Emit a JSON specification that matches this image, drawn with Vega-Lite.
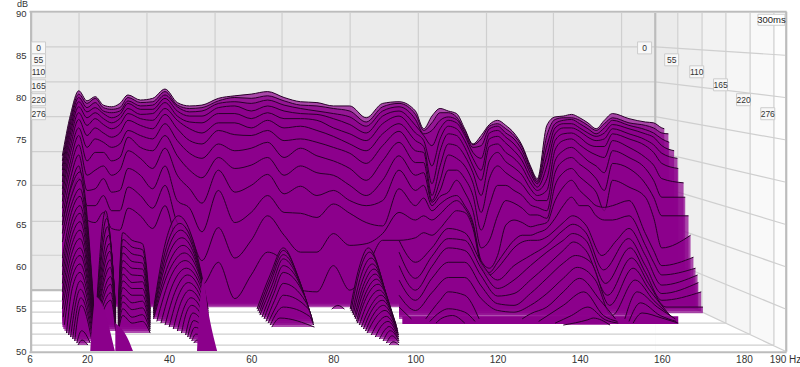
{"$schema":"https://vega.github.io/schema/vega-lite/v6.json","width":800,"height":367,"padding":0,"autosize":{"type":"none"},"background":"white","config":{"view":{"stroke":null},"area":{"color":"#8b008b","line":{"color":"#2a002a","strokeWidth":1}}},
"datasets":{
"strips":[{"hz":158.4,"hz2":164,"db":90,"db2":50,"d":0},{"hz":164,"hz2":169.8,"db":90,"db2":50,"d":1},{"hz":169.8,"hz2":175.6,"db":90,"db2":50,"d":2},{"hz":175.6,"hz2":181.5,"db":90,"db2":50,"d":3},{"hz":181.5,"hz2":187.3,"db":90,"db2":50,"d":4},{"hz":187.3,"hz2":190,"db":90,"db2":50,"d":5}],
"back":[{"hz":6.6,"hz2":158.4,"db":90,"db2":57.2}],
"floor":[{"hz":158.4,"db":57.2,"b":50},{"hz":190,"db":50,"b":50}],
"grid":[{"hz":18.06,"hz2":18.06,"db":90,"db2":57.2},{"hz":34.6,"hz2":34.6,"db":90,"db2":57.2},{"hz":51.2,"hz2":51.2,"db":90,"db2":57.2},{"hz":67.5,"hz2":67.5,"db":90,"db2":57.2},{"hz":84.1,"hz2":84.1,"db":90,"db2":57.2},{"hz":100.7,"hz2":100.7,"db":90,"db2":57.2},{"hz":117.3,"hz2":117.3,"db":90,"db2":57.2},{"hz":133.6,"hz2":133.6,"db":90,"db2":57.2},{"hz":150.2,"hz2":150.2,"db":90,"db2":57.2},{"hz":6.6,"hz2":158.4,"db":86,"db2":86},{"hz":6.6,"hz2":158.4,"db":81.86,"db2":81.86},{"hz":6.6,"hz2":158.4,"db":77.73,"db2":77.73},{"hz":6.6,"hz2":158.4,"db":73.6,"db2":73.6},{"hz":6.6,"hz2":158.4,"db":69.6,"db2":69.6},{"hz":6.6,"hz2":158.4,"db":65.34,"db2":65.34},{"hz":6.6,"hz2":158.4,"db":61.33,"db2":61.33},{"hz":158.4,"hz2":190,"db":86,"db2":85},{"hz":158.4,"hz2":190,"db":81.86,"db2":80},{"hz":158.4,"hz2":190,"db":77.73,"db2":75},{"hz":158.4,"hz2":190,"db":73.6,"db2":70},{"hz":158.4,"hz2":190,"db":69.6,"db2":65},{"hz":158.4,"hz2":190,"db":65.34,"db2":60},{"hz":158.4,"hz2":190,"db":61.33,"db2":55},{"hz":158.4,"hz2":190,"db":57.2,"db2":50},{"hz":163.9,"hz2":163.9,"db":90,"db2":55.9},{"hz":169.8,"hz2":169.8,"db":90,"db2":54.6},{"hz":175.6,"hz2":175.6,"db":90,"db2":53.3},{"hz":181.5,"hz2":181.5,"db":90,"db2":52},{"hz":187.3,"hz2":187.3,"db":90,"db2":50.7},{"hz":6.4,"hz2":163.9,"db":55.9,"db2":55.9},{"hz":6.4,"hz2":169.8,"db":54.6,"db2":54.6},{"hz":6.3,"hz2":175.6,"db":53.3,"db2":53.3},{"hz":6.3,"hz2":181.5,"db":52,"db2":52},{"hz":6.2,"hz2":187.3,"db":50.7,"db2":50.7}],
"frame":[{"hz":6,"hz2":190.4,"db":90.15,"db2":90.15},{"hz":190.3,"hz2":190.3,"db":90.15,"db2":49.9},{"hz":6.4,"hz2":6.4,"db":90.15,"db2":49.9},{"hz":6,"hz2":190.4,"db":49.85,"db2":49.85},{"hz":158.4,"hz2":158.4,"db":90,"db2":57.2},{"hz":6.6,"hz2":14,"db":57.2,"db2":57.2}],
"boxes":[{"label":"0","hz":8.2,"db":85.87},{"label":"55","hz":8.2,"db":84.46},{"label":"110","hz":8.2,"db":83.04},{"label":"165","hz":8.2,"db":81.39},{"label":"220","hz":8.2,"db":79.74},{"label":"276","hz":8.2,"db":78.08},{"label":"0","hz":155.8,"db":85.87},{"label":"55","hz":162.4,"db":84.46},{"label":"110","hz":168.5,"db":83.04},{"label":"165","hz":174.3,"db":81.5},{"label":"220","hz":179.9,"db":79.74},{"label":"276","hz":185.8,"db":78.08}],
"tag":[{"label":"300ms","hz":186.7,"db":89.2}],
"bases":[{"k":0,"base":57.2},{"k":1,"base":57.03},{"k":2,"base":56.87},{"k":3,"base":56.69},{"k":4,"base":56.53},{"k":5,"base":56.37},{"k":6,"base":56.2},{"k":7,"base":56},{"k":8,"base":55.85},{"k":9,"base":55.69},{"k":10,"base":55.55},{"k":11,"base":55.36},{"k":12,"base":55.19},{"k":13,"base":54.96},{"k":14,"base":54.72},{"k":15,"base":54.48},{"k":16,"base":54.25},{"k":16.5,"base":53.2},{"k":17,"base":54.01},{"k":18,"base":53.78},{"k":19,"base":53.54},{"k":20,"base":53.3},{"k":21,"base":53.07},{"k":22,"base":52.83},{"k":23,"base":52.6},{"k":24,"base":52.36},{"k":25,"base":52.12},{"k":26,"base":51.89},{"k":27,"base":51.65},{"k":28,"base":51.42},{"k":29,"base":51.18},{"k":30,"base":50.94},{"k":31,"base":50.71},{"k":33,"base":50}],
"slices":[
{"k":0,"hz":14,"db":73.1},{"k":0,"hz":16,"db":78},{"k":0,"hz":18,"db":80.8},{"k":0,"hz":20,"db":79.6},{"k":0,"hz":22,"db":80.1},{"k":0,"hz":24,"db":79.1},{"k":0,"hz":26,"db":78.9},{"k":0,"hz":28,"db":79.3},{"k":0,"hz":30,"db":80.3},{"k":0,"hz":33,"db":79.7},{"k":0,"hz":36,"db":79.9},{"k":0,"hz":39,"db":81},{"k":0,"hz":42,"db":79.4},{"k":0,"hz":45,"db":79},{"k":0,"hz":48,"db":79.1},{"k":0,"hz":52,"db":79.9},{"k":0,"hz":56,"db":80.2},{"k":0,"hz":60,"db":80.4},{"k":0,"hz":64,"db":80.7},{"k":0,"hz":68,"db":80},{"k":0,"hz":72,"db":79.5},{"k":0,"hz":76,"db":79.4},{"k":0,"hz":80,"db":79},{"k":0,"hz":84,"db":79},{"k":0,"hz":88,"db":77.6},{"k":0,"hz":92,"db":79.3},{"k":0,"hz":96,"db":79.5},{"k":0,"hz":100,"db":78.4},{"k":0,"hz":102,"db":76.3},{"k":0,"hz":104,"db":77.8},{"k":0,"hz":106,"db":78.7},{"k":0,"hz":108,"db":78.4},{"k":0,"hz":110,"db":78.1},{"k":0,"hz":112,"db":76.3},{"k":0,"hz":114,"db":74.5},{"k":0,"hz":116,"db":75.5},{"k":0,"hz":118,"db":76.8},{"k":0,"hz":120,"db":77.3},{"k":0,"hz":122,"db":76.7},{"k":0,"hz":124,"db":75.8},{"k":0,"hz":126,"db":74.3},{"k":0,"hz":128,"db":71.9},{"k":0,"hz":129.7,"db":70.4},{"k":0,"hz":132,"db":76.7},{"k":0,"hz":134,"db":77.7},{"k":0,"hz":136,"db":77.8},{"k":0,"hz":138,"db":78},{"k":0,"hz":140,"db":77.6},{"k":0,"hz":142,"db":77},{"k":0,"hz":144,"db":76.3},{"k":0,"hz":146,"db":77.3},{"k":0,"hz":148,"db":78.1},{"k":0,"hz":152,"db":77.5},{"k":0,"hz":156,"db":77.1},{"k":0,"hz":158,"db":77},{"k":0,"hz":160,"db":76.4},{"k":0,"hz":160.6,"db":76.3},
{"k":1,"hz":14,"db":72.5},{"k":1,"hz":16,"db":77.5},{"k":1,"hz":18,"db":80.4},{"k":1,"hz":20,"db":79.3},{"k":1,"hz":22,"db":79.9},{"k":1,"hz":24,"db":78.8},{"k":1,"hz":26,"db":78.6},{"k":1,"hz":28,"db":78.8},{"k":1,"hz":30,"db":80},{"k":1,"hz":33,"db":79.4},{"k":1,"hz":36,"db":79.5},{"k":1,"hz":39,"db":80.7},{"k":1,"hz":42,"db":79.1},{"k":1,"hz":45,"db":78.7},{"k":1,"hz":48,"db":78.8},{"k":1,"hz":52,"db":79.6},{"k":1,"hz":56,"db":80},{"k":1,"hz":60,"db":79.9},{"k":1,"hz":64,"db":80.2},{"k":1,"hz":68,"db":79.6},{"k":1,"hz":72,"db":79.1},{"k":1,"hz":76,"db":79},{"k":1,"hz":80,"db":78.7},{"k":1,"hz":84,"db":78.4},{"k":1,"hz":88,"db":77.1},{"k":1,"hz":92,"db":78.9},{"k":1,"hz":96,"db":79.3},{"k":1,"hz":100,"db":78},{"k":1,"hz":102,"db":76.1},{"k":1,"hz":104,"db":77},{"k":1,"hz":106,"db":78.2},{"k":1,"hz":108,"db":78.2},{"k":1,"hz":110,"db":77.7},{"k":1,"hz":112,"db":76.1},{"k":1,"hz":114,"db":74.4},{"k":1,"hz":116,"db":75.1},{"k":1,"hz":118,"db":76.6},{"k":1,"hz":120,"db":76.9},{"k":1,"hz":122,"db":76.3},{"k":1,"hz":124,"db":75.5},{"k":1,"hz":126,"db":74.1},{"k":1,"hz":128,"db":71.7},{"k":1,"hz":129.7,"db":70.2},{"k":1,"hz":132,"db":75.5},{"k":1,"hz":134,"db":77.4},{"k":1,"hz":136,"db":77.6},{"k":1,"hz":138,"db":77.6},{"k":1,"hz":140,"db":77.3},{"k":1,"hz":142,"db":76.7},{"k":1,"hz":144,"db":76.1},{"k":1,"hz":146,"db":76.9},{"k":1,"hz":148,"db":77.6},{"k":1,"hz":152,"db":77},{"k":1,"hz":156,"db":76.7},{"k":1,"hz":158,"db":76.4},{"k":1,"hz":160,"db":75.8},{"k":1,"hz":161.6,"db":75.7},
{"k":2,"hz":14,"db":71.9},{"k":2,"hz":16,"db":77},{"k":2,"hz":18,"db":80},{"k":2,"hz":20,"db":78.8},{"k":2,"hz":22,"db":79.4},{"k":2,"hz":24,"db":78.4},{"k":2,"hz":26,"db":78.2},{"k":2,"hz":28,"db":78.4},{"k":2,"hz":30,"db":79.6},{"k":2,"hz":33,"db":79},{"k":2,"hz":36,"db":79.1},{"k":2,"hz":39,"db":80.3},{"k":2,"hz":42,"db":78.9},{"k":2,"hz":45,"db":78.3},{"k":2,"hz":48,"db":78.4},{"k":2,"hz":52,"db":79.3},{"k":2,"hz":56,"db":79.5},{"k":2,"hz":60,"db":79.3},{"k":2,"hz":64,"db":79.7},{"k":2,"hz":68,"db":79.1},{"k":2,"hz":72,"db":78.7},{"k":2,"hz":76,"db":78.4},{"k":2,"hz":80,"db":78.1},{"k":2,"hz":84,"db":77.7},{"k":2,"hz":88,"db":76.6},{"k":2,"hz":92,"db":78.4},{"k":2,"hz":96,"db":78.9},{"k":2,"hz":100,"db":77.4},{"k":2,"hz":102,"db":75.7},{"k":2,"hz":104,"db":76.1},{"k":2,"hz":106,"db":77.3},{"k":2,"hz":108,"db":77.7},{"k":2,"hz":110,"db":77.4},{"k":2,"hz":112,"db":75.8},{"k":2,"hz":114,"db":74.1},{"k":2,"hz":116,"db":74.3},{"k":2,"hz":118,"db":76.3},{"k":2,"hz":120,"db":76.6},{"k":2,"hz":122,"db":75.8},{"k":2,"hz":124,"db":75.1},{"k":2,"hz":126,"db":73.7},{"k":2,"hz":128,"db":71.4},{"k":2,"hz":129.7,"db":70},{"k":2,"hz":132,"db":74.3},{"k":2,"hz":134,"db":76.9},{"k":2,"hz":136,"db":77.3},{"k":2,"hz":138,"db":77.4},{"k":2,"hz":140,"db":76.9},{"k":2,"hz":142,"db":76.3},{"k":2,"hz":144,"db":75.7},{"k":2,"hz":146,"db":76.4},{"k":2,"hz":148,"db":77.3},{"k":2,"hz":152,"db":76.7},{"k":2,"hz":156,"db":76.2},{"k":2,"hz":158,"db":75.8},{"k":2,"hz":160,"db":75.1},{"k":2,"hz":161.8,"db":74.7},
{"k":3,"hz":14,"db":71.4},{"k":3,"hz":16,"db":76.4},{"k":3,"hz":18,"db":79.5},{"k":3,"hz":20,"db":78.3},{"k":3,"hz":22,"db":78.8},{"k":3,"hz":24,"db":78.1},{"k":3,"hz":26,"db":77.6},{"k":3,"hz":28,"db":78},{"k":3,"hz":30,"db":79.3},{"k":3,"hz":33,"db":78.6},{"k":3,"hz":36,"db":78.6},{"k":3,"hz":39,"db":79.9},{"k":3,"hz":42,"db":78.4},{"k":3,"hz":45,"db":77.8},{"k":3,"hz":48,"db":77.8},{"k":3,"hz":52,"db":78.8},{"k":3,"hz":56,"db":79},{"k":3,"hz":60,"db":78.4},{"k":3,"hz":64,"db":79},{"k":3,"hz":68,"db":78.4},{"k":3,"hz":72,"db":78.1},{"k":3,"hz":76,"db":78},{"k":3,"hz":80,"db":77.5},{"k":3,"hz":84,"db":76.8},{"k":3,"hz":88,"db":75.8},{"k":3,"hz":92,"db":77.8},{"k":3,"hz":96,"db":78.4},{"k":3,"hz":100,"db":76.7},{"k":3,"hz":102,"db":75.5},{"k":3,"hz":104,"db":74.3},{"k":3,"hz":106,"db":76.3},{"k":3,"hz":108,"db":77.3},{"k":3,"hz":110,"db":77},{"k":3,"hz":112,"db":75.5},{"k":3,"hz":114,"db":73.5},{"k":3,"hz":116,"db":72.8},{"k":3,"hz":118,"db":75.8},{"k":3,"hz":120,"db":76.1},{"k":3,"hz":122,"db":75.3},{"k":3,"hz":124,"db":74.5},{"k":3,"hz":126,"db":73.2},{"k":3,"hz":128,"db":71},{"k":3,"hz":129.7,"db":69.8},{"k":3,"hz":132,"db":73.1},{"k":3,"hz":134,"db":76.4},{"k":3,"hz":136,"db":76.9},{"k":3,"hz":138,"db":76.9},{"k":3,"hz":140,"db":76.4},{"k":3,"hz":142,"db":75.8},{"k":3,"hz":144,"db":75.4},{"k":3,"hz":146,"db":75.8},{"k":3,"hz":148,"db":76.8},{"k":3,"hz":152,"db":76.3},{"k":3,"hz":156,"db":75.7},{"k":3,"hz":158,"db":75.3},{"k":3,"hz":160,"db":74.3},{"k":3,"hz":163,"db":73.7},
{"k":4,"hz":14,"db":70.7},{"k":4,"hz":16,"db":75.8},{"k":4,"hz":18,"db":78.9},{"k":4,"hz":20,"db":77.6},{"k":4,"hz":22,"db":78.2},{"k":4,"hz":24,"db":77.5},{"k":4,"hz":26,"db":77},{"k":4,"hz":28,"db":77.5},{"k":4,"hz":30,"db":78.7},{"k":4,"hz":33,"db":78},{"k":4,"hz":36,"db":78.1},{"k":4,"hz":39,"db":79.4},{"k":4,"hz":42,"db":77.8},{"k":4,"hz":45,"db":77.1},{"k":4,"hz":48,"db":77},{"k":4,"hz":52,"db":78.1},{"k":4,"hz":56,"db":78.1},{"k":4,"hz":60,"db":77.5},{"k":4,"hz":64,"db":78.2},{"k":4,"hz":68,"db":77.5},{"k":4,"hz":72,"db":77.5},{"k":4,"hz":76,"db":77.3},{"k":4,"hz":80,"db":76.4},{"k":4,"hz":84,"db":75.7},{"k":4,"hz":88,"db":74.9},{"k":4,"hz":92,"db":76.9},{"k":4,"hz":96,"db":77.8},{"k":4,"hz":100,"db":75.8},{"k":4,"hz":102,"db":74.9},{"k":4,"hz":104,"db":71.9},{"k":4,"hz":106,"db":75.1},{"k":4,"hz":108,"db":76.6},{"k":4,"hz":110,"db":76.3},{"k":4,"hz":112,"db":74.9},{"k":4,"hz":114,"db":72.8},{"k":4,"hz":116,"db":71.4},{"k":4,"hz":118,"db":75.1},{"k":4,"hz":120,"db":75.4},{"k":4,"hz":122,"db":74.6},{"k":4,"hz":124,"db":73.7},{"k":4,"hz":126,"db":72.5},{"k":4,"hz":128,"db":70.5},{"k":4,"hz":129.7,"db":69.4},{"k":4,"hz":132,"db":71.9},{"k":4,"hz":134,"db":75.7},{"k":4,"hz":136,"db":76.4},{"k":4,"hz":138,"db":76.4},{"k":4,"hz":140,"db":76},{"k":4,"hz":142,"db":75.3},{"k":4,"hz":144,"db":74.9},{"k":4,"hz":146,"db":75.1},{"k":4,"hz":148,"db":76.3},{"k":4,"hz":152,"db":75.7},{"k":4,"hz":156,"db":75},{"k":4,"hz":158,"db":74.4},{"k":4,"hz":160,"db":73.4},{"k":4,"hz":163.8,"db":72.8},
{"k":5,"hz":14,"db":70},{"k":5,"hz":16,"db":75.1},{"k":5,"hz":18,"db":78.2},{"k":5,"hz":20,"db":76.7},{"k":5,"hz":22,"db":77.5},{"k":5,"hz":24,"db":76.8},{"k":5,"hz":26,"db":76.3},{"k":5,"hz":28,"db":76.8},{"k":5,"hz":30,"db":78.1},{"k":5,"hz":33,"db":77.5},{"k":5,"hz":36,"db":77.3},{"k":5,"hz":39,"db":78.7},{"k":5,"hz":42,"db":77.3},{"k":5,"hz":45,"db":76.3},{"k":5,"hz":48,"db":75.8},{"k":5,"hz":52,"db":77},{"k":5,"hz":56,"db":77},{"k":5,"hz":60,"db":76.4},{"k":5,"hz":64,"db":77.3},{"k":5,"hz":68,"db":76.4},{"k":5,"hz":72,"db":76.6},{"k":5,"hz":76,"db":76.1},{"k":5,"hz":80,"db":75.4},{"k":5,"hz":84,"db":74.5},{"k":5,"hz":88,"db":73.7},{"k":5,"hz":92,"db":75.7},{"k":5,"hz":96,"db":76.9},{"k":5,"hz":100,"db":74.9},{"k":5,"hz":102,"db":74.2},{"k":5,"hz":104,"db":69.8},{"k":5,"hz":106,"db":73.7},{"k":5,"hz":108,"db":75.7},{"k":5,"hz":110,"db":75.5},{"k":5,"hz":112,"db":74.1},{"k":5,"hz":114,"db":71.9},{"k":5,"hz":116,"db":70.2},{"k":5,"hz":118,"db":74.2},{"k":5,"hz":120,"db":74.5},{"k":5,"hz":122,"db":73.5},{"k":5,"hz":124,"db":72.8},{"k":5,"hz":126,"db":71.7},{"k":5,"hz":128,"db":69.9},{"k":5,"hz":129.7,"db":69},{"k":5,"hz":132,"db":70.4},{"k":5,"hz":134,"db":74.9},{"k":5,"hz":136,"db":75.7},{"k":5,"hz":138,"db":75.8},{"k":5,"hz":140,"db":75.3},{"k":5,"hz":142,"db":74.5},{"k":5,"hz":144,"db":74.2},{"k":5,"hz":146,"db":74.2},{"k":5,"hz":148,"db":75.7},{"k":5,"hz":152,"db":75.1},{"k":5,"hz":156,"db":74.3},{"k":5,"hz":158,"db":73.5},{"k":5,"hz":160,"db":72.2},{"k":5,"hz":164,"db":71.6},
{"k":6,"hz":14,"db":69.2},{"k":6,"hz":16,"db":74.3},{"k":6,"hz":18,"db":77.4},{"k":6,"hz":20,"db":75.5},{"k":6,"hz":22,"db":76.4},{"k":6,"hz":24,"db":75.8},{"k":6,"hz":26,"db":75.3},{"k":6,"hz":28,"db":75.8},{"k":6,"hz":30,"db":77.3},{"k":6,"hz":33,"db":76.7},{"k":6,"hz":36,"db":76.3},{"k":6,"hz":39,"db":78},{"k":6,"hz":42,"db":76.3},{"k":6,"hz":45,"db":74.9},{"k":6,"hz":48,"db":74.5},{"k":6,"hz":52,"db":76.1},{"k":6,"hz":56,"db":75.6},{"k":6,"hz":60,"db":75.5},{"k":6,"hz":64,"db":76.1},{"k":6,"hz":68,"db":74.9},{"k":6,"hz":72,"db":75.1},{"k":6,"hz":76,"db":74.7},{"k":6,"hz":80,"db":74.1},{"k":6,"hz":84,"db":73.4},{"k":6,"hz":88,"db":72.2},{"k":6,"hz":92,"db":74.3},{"k":6,"hz":96,"db":76},{"k":6,"hz":100,"db":73.7},{"k":6,"hz":102,"db":73.5},{"k":6,"hz":104,"db":68.4},{"k":6,"hz":106,"db":71.9},{"k":6,"hz":108,"db":74.5},{"k":6,"hz":110,"db":74.3},{"k":6,"hz":112,"db":73.1},{"k":6,"hz":114,"db":71.1},{"k":6,"hz":116,"db":68.4},{"k":6,"hz":118,"db":72.5},{"k":6,"hz":120,"db":73.5},{"k":6,"hz":122,"db":72.4},{"k":6,"hz":124,"db":71.7},{"k":6,"hz":126,"db":70.8},{"k":6,"hz":128,"db":69.2},{"k":6,"hz":129.7,"db":68.4},{"k":6,"hz":132,"db":69},{"k":6,"hz":134,"db":73.8},{"k":6,"hz":136,"db":74.9},{"k":6,"hz":138,"db":75.1},{"k":6,"hz":140,"db":74.4},{"k":6,"hz":142,"db":73.7},{"k":6,"hz":144,"db":73.2},{"k":6,"hz":146,"db":72.9},{"k":6,"hz":148,"db":74.9},{"k":6,"hz":152,"db":74.1},{"k":6,"hz":156,"db":72.9},{"k":6,"hz":158,"db":72},{"k":6,"hz":160,"db":70.4},{"k":6,"hz":165.3,"db":69.9},
{"k":7,"hz":14,"db":68.5},{"k":7,"hz":16,"db":73.5},{"k":7,"hz":18,"db":76.4},{"k":7,"hz":20,"db":74.1},{"k":7,"hz":22,"db":75.1},{"k":7,"hz":24,"db":74.7},{"k":7,"hz":26,"db":74.1},{"k":7,"hz":28,"db":74.5},{"k":7,"hz":30,"db":76.1},{"k":7,"hz":33,"db":75.5},{"k":7,"hz":36,"db":75.1},{"k":7,"hz":39,"db":76.9},{"k":7,"hz":42,"db":74.9},{"k":7,"hz":45,"db":73.4},{"k":7,"hz":48,"db":72.8},{"k":7,"hz":52,"db":74.5},{"k":7,"hz":56,"db":73.7},{"k":7,"hz":60,"db":74},{"k":7,"hz":64,"db":74.7},{"k":7,"hz":68,"db":72.9},{"k":7,"hz":72,"db":74},{"k":7,"hz":76,"db":73.1},{"k":7,"hz":80,"db":72.5},{"k":7,"hz":84,"db":71.6},{"k":7,"hz":88,"db":70.2},{"k":7,"hz":92,"db":72.5},{"k":7,"hz":96,"db":74.7},{"k":7,"hz":100,"db":72.3},{"k":7,"hz":102,"db":72.3},{"k":7,"hz":104,"db":67.8},{"k":7,"hz":106,"db":70.2},{"k":7,"hz":108,"db":73.2},{"k":7,"hz":110,"db":72.8},{"k":7,"hz":112,"db":71.9},{"k":7,"hz":114,"db":69.9},{"k":7,"hz":116,"db":66.4},{"k":7,"hz":118,"db":70.4},{"k":7,"hz":120,"db":71.9},{"k":7,"hz":122,"db":71.1},{"k":7,"hz":124,"db":70.4},{"k":7,"hz":126,"db":69.7},{"k":7,"hz":128,"db":68.4},{"k":7,"hz":129.7,"db":67.8},{"k":7,"hz":132,"db":67.8},{"k":7,"hz":134,"db":72.5},{"k":7,"hz":136,"db":73.7},{"k":7,"hz":138,"db":74.1},{"k":7,"hz":140,"db":73.4},{"k":7,"hz":142,"db":72.5},{"k":7,"hz":144,"db":71.9},{"k":7,"hz":146,"db":71.1},{"k":7,"hz":148,"db":73.7},{"k":7,"hz":152,"db":72.9},{"k":7,"hz":156,"db":71.6},{"k":7,"hz":158,"db":70.2},{"k":7,"hz":160,"db":68.2},{"k":7,"hz":165.7,"db":68.2},
{"k":8,"hz":14,"db":67.7},{"k":8,"hz":16,"db":72.5},{"k":8,"hz":18,"db":75.5},{"k":8,"hz":20,"db":72.5},{"k":8,"hz":22,"db":73.5},{"k":8,"hz":24,"db":73.5},{"k":8,"hz":26,"db":72.5},{"k":8,"hz":28,"db":72.9},{"k":8,"hz":30,"db":75.3},{"k":8,"hz":33,"db":74.1},{"k":8,"hz":36,"db":73.7},{"k":8,"hz":39,"db":75.5},{"k":8,"hz":42,"db":73.1},{"k":8,"hz":45,"db":71.4},{"k":8,"hz":48,"db":70.5},{"k":8,"hz":52,"db":72.9},{"k":8,"hz":56,"db":71.6},{"k":8,"hz":60,"db":72},{"k":8,"hz":64,"db":72.9},{"k":8,"hz":68,"db":70.8},{"k":8,"hz":72,"db":71.9},{"k":8,"hz":76,"db":71.1},{"k":8,"hz":80,"db":70.8},{"k":8,"hz":84,"db":69.6},{"k":8,"hz":88,"db":68.4},{"k":8,"hz":92,"db":70.2},{"k":8,"hz":96,"db":73.1},{"k":8,"hz":100,"db":70.8},{"k":8,"hz":102,"db":71.1},{"k":8,"hz":104,"db":67.6},{"k":8,"hz":106,"db":69},{"k":8,"hz":108,"db":71.4},{"k":8,"hz":110,"db":71.4},{"k":8,"hz":112,"db":70.4},{"k":8,"hz":114,"db":68.4},{"k":8,"hz":116,"db":64.3},{"k":8,"hz":118,"db":67.2},{"k":8,"hz":120,"db":69.6},{"k":8,"hz":122,"db":69.6},{"k":8,"hz":124,"db":69},{"k":8,"hz":126,"db":68.4},{"k":8,"hz":128,"db":67.3},{"k":8,"hz":129.7,"db":67},{"k":8,"hz":132,"db":66.6},{"k":8,"hz":134,"db":71.1},{"k":8,"hz":136,"db":72.5},{"k":8,"hz":138,"db":72.9},{"k":8,"hz":140,"db":72.1},{"k":8,"hz":142,"db":71.4},{"k":8,"hz":144,"db":70.4},{"k":8,"hz":146,"db":69},{"k":8,"hz":148,"db":72.2},{"k":8,"hz":152,"db":71.6},{"k":8,"hz":156,"db":69.8},{"k":8,"hz":158,"db":68.2},{"k":8,"hz":160,"db":66},{"k":8,"hz":166.5,"db":66},
{"k":9,"hz":14,"db":66.9},{"k":9,"hz":16,"db":71.6},{"k":9,"hz":18,"db":74.4},{"k":9,"hz":20,"db":70.8},{"k":9,"hz":22,"db":71.4},{"k":9,"hz":24,"db":71.9},{"k":9,"hz":26,"db":70.8},{"k":9,"hz":28,"db":71.4},{"k":9,"hz":30,"db":73.7},{"k":9,"hz":33,"db":72.8},{"k":9,"hz":36,"db":71.6},{"k":9,"hz":39,"db":74},{"k":9,"hz":42,"db":70.8},{"k":9,"hz":45,"db":69.2},{"k":9,"hz":48,"db":67.5},{"k":9,"hz":52,"db":71.4},{"k":9,"hz":56,"db":68.8},{"k":9,"hz":60,"db":69.6},{"k":9,"hz":64,"db":70.9},{"k":9,"hz":68,"db":68.6},{"k":9,"hz":72,"db":69.5},{"k":9,"hz":76,"db":68.4},{"k":9,"hz":80,"db":69},{"k":9,"hz":84,"db":67.8},{"k":9,"hz":88,"db":67.2},{"k":9,"hz":92,"db":67.8},{"k":9,"hz":96,"db":71.4},{"k":9,"hz":100,"db":69},{"k":9,"hz":102,"db":69.6},{"k":9,"hz":104,"db":67.2},{"k":9,"hz":106,"db":68.3},{"k":9,"hz":108,"db":68.8},{"k":9,"hz":110,"db":70.2},{"k":9,"hz":112,"db":68.8},{"k":9,"hz":114,"db":66.6},{"k":9,"hz":116,"db":62.2},{"k":9,"hz":118,"db":63.1},{"k":9,"hz":120,"db":66},{"k":9,"hz":122,"db":67.8},{"k":9,"hz":124,"db":67.5},{"k":9,"hz":126,"db":66.9},{"k":9,"hz":128,"db":66.1},{"k":9,"hz":129.7,"db":66.1},{"k":9,"hz":132,"db":65.7},{"k":9,"hz":134,"db":69.6},{"k":9,"hz":136,"db":71.1},{"k":9,"hz":138,"db":71.6},{"k":9,"hz":140,"db":70.6},{"k":9,"hz":142,"db":69.8},{"k":9,"hz":144,"db":68.8},{"k":9,"hz":146,"db":66.6},{"k":9,"hz":148,"db":70.2},{"k":9,"hz":152,"db":69.4},{"k":9,"hz":156,"db":68.2},{"k":9,"hz":158,"db":65.8},{"k":9,"hz":160,"db":62.2},{"k":9,"hz":167,"db":63.7},
{"k":10,"hz":14,"db":65.9},{"k":10,"hz":16,"db":70.5},{"k":10,"hz":18,"db":73.2},{"k":10,"hz":20,"db":69},{"k":10,"hz":22,"db":69.2},{"k":10,"hz":24,"db":70.4},{"k":10,"hz":26,"db":68.8},{"k":10,"hz":28,"db":69},{"k":10,"hz":30,"db":71.6},{"k":10,"hz":33,"db":70.8},{"k":10,"hz":36,"db":69.2},{"k":10,"hz":39,"db":71.9},{"k":10,"hz":42,"db":67.8},{"k":10,"hz":45,"db":66.9},{"k":10,"hz":48,"db":64.1},{"k":10,"hz":52,"db":69},{"k":10,"hz":56,"db":65.2},{"k":10,"hz":60,"db":66.4},{"k":10,"hz":64,"db":68.4},{"k":10,"hz":68,"db":66.4},{"k":10,"hz":72,"db":66.3},{"k":10,"hz":76,"db":65.8},{"k":10,"hz":80,"db":67.4},{"k":10,"hz":84,"db":66.3},{"k":10,"hz":88,"db":65.2},{"k":10,"hz":92,"db":64.8},{"k":10,"hz":96,"db":69.2},{"k":10,"hz":100,"db":67.2},{"k":10,"hz":102,"db":68.1},{"k":10,"hz":104,"db":66.6},{"k":10,"hz":106,"db":67.4},{"k":10,"hz":108,"db":68.1},{"k":10,"hz":110,"db":68.4},{"k":10,"hz":112,"db":67.2},{"k":10,"hz":114,"db":65.2},{"k":10,"hz":116,"db":60.7},{"k":10,"hz":118,"db":59.8},{"k":10,"hz":120,"db":61.3},{"k":10,"hz":122,"db":64.9},{"k":10,"hz":124,"db":65.5},{"k":10,"hz":126,"db":65.2},{"k":10,"hz":128,"db":64.7},{"k":10,"hz":129.7,"db":64.9},{"k":10,"hz":132,"db":65.2},{"k":10,"hz":134,"db":67.8},{"k":10,"hz":136,"db":69.4},{"k":10,"hz":138,"db":70.2},{"k":10,"hz":140,"db":69},{"k":10,"hz":142,"db":68.1},{"k":10,"hz":144,"db":67.2},{"k":10,"hz":146,"db":67},{"k":10,"hz":148,"db":67.2},{"k":10,"hz":152,"db":67.8},{"k":10,"hz":156,"db":63.9},{"k":10,"hz":158,"db":61.9},{"k":10,"hz":160,"db":60.1},{"k":10,"hz":167.7,"db":61.1},
{"k":11,"hz":14,"db":65},{"k":11,"hz":16,"db":69.4},{"k":11,"hz":18,"db":71.9},{"k":11,"hz":20,"db":67.2},{"k":11,"hz":22,"db":67.2},{"k":11,"hz":24,"db":68.4},{"k":11,"hz":26,"db":66.6},{"k":11,"hz":28,"db":66.6},{"k":11,"hz":30,"db":69.4},{"k":11,"hz":33,"db":68.4},{"k":11,"hz":36,"db":66.9},{"k":11,"hz":39,"db":69.6},{"k":11,"hz":42,"db":65.2},{"k":11,"hz":45,"db":64},{"k":11,"hz":48,"db":60.7},{"k":11,"hz":52,"db":64.6},{"k":11,"hz":56,"db":61},{"k":11,"hz":60,"db":63.1},{"k":11,"hz":64,"db":66},{"k":11,"hz":68,"db":63.7},{"k":11,"hz":72,"db":61.7},{"k":11,"hz":76,"db":61.7},{"k":11,"hz":80,"db":63.9},{"k":11,"hz":84,"db":62.5},{"k":11,"hz":88,"db":62.7},{"k":11,"hz":92,"db":63.9},{"k":11,"hz":96,"db":66.4},{"k":11,"hz":100,"db":65.5},{"k":11,"hz":102,"db":66},{"k":11,"hz":104,"db":65.5},{"k":11,"hz":106,"db":66.2},{"k":11,"hz":108,"db":67.2},{"k":11,"hz":110,"db":67.8},{"k":11,"hz":112,"db":66.9},{"k":11,"hz":114,"db":64.9},{"k":11,"hz":116,"db":60.4},{"k":11,"hz":118,"db":59.3},{"k":11,"hz":120,"db":60.5},{"k":11,"hz":122,"db":61.9},{"k":11,"hz":124,"db":63.1},{"k":11,"hz":126,"db":63.7},{"k":11,"hz":128,"db":63.7},{"k":11,"hz":129.7,"db":64},{"k":11,"hz":132,"db":64.5},{"k":11,"hz":134,"db":65.7},{"k":11,"hz":136,"db":67.2},{"k":11,"hz":138,"db":68.2},{"k":11,"hz":140,"db":67.2},{"k":11,"hz":142,"db":67.2},{"k":11,"hz":144,"db":66},{"k":11,"hz":146,"db":65.5},{"k":11,"hz":148,"db":65.5},{"k":11,"hz":152,"db":66},{"k":11,"hz":156,"db":62.5},{"k":11,"hz":158,"db":60.5},{"k":11,"hz":160,"db":59},{"k":11,"hz":168.2,"db":59.8},
{"k":12,"hz":14,"db":64},{"k":12,"hz":16,"db":68.2},{"k":12,"hz":18,"db":70.5},{"k":12,"hz":20,"db":65.5},{"k":12,"hz":22,"db":65.2},{"k":12,"hz":24,"db":66.4},{"k":12,"hz":26,"db":64.5},{"k":12,"hz":28,"db":64.3},{"k":12,"hz":30,"db":66.9},{"k":12,"hz":33,"db":66},{"k":12,"hz":36,"db":64.5},{"k":12,"hz":39,"db":67.2},{"k":12,"hz":42,"db":62.5},{"k":12,"hz":45,"db":61},{"k":12,"hz":48,"db":57.8},{"k":12,"hz":52,"db":60.5},{"k":12,"hz":56,"db":56.2},{"k":12,"hz":60,"db":59},{"k":12,"hz":64,"db":61.7},{"k":12,"hz":68,"db":60.5},{"k":12,"hz":72,"db":57.2},{"k":12,"hz":76,"db":57},{"k":12,"hz":80,"db":60.1},{"k":12,"hz":84,"db":57.2},{"k":12,"hz":88,"db":59.6},{"k":12,"hz":92,"db":63.1},{"k":12,"hz":96,"db":63.1},{"k":12,"hz":100,"db":63.4},{"k":12,"hz":102,"db":64},{"k":12,"hz":104,"db":63.7},{"k":12,"hz":106,"db":64.5},{"k":12,"hz":108,"db":65.7},{"k":12,"hz":110,"db":66.6},{"k":12,"hz":112,"db":66.4},{"k":12,"hz":114,"db":64.5},{"k":12,"hz":116,"db":60.1},{"k":12,"hz":118,"db":59},{"k":12,"hz":120,"db":59.8},{"k":12,"hz":122,"db":61},{"k":12,"hz":124,"db":62.2},{"k":12,"hz":126,"db":62.9},{"k":12,"hz":128,"db":63.1},{"k":12,"hz":129.7,"db":63.1},{"k":12,"hz":132,"db":63.5},{"k":12,"hz":134,"db":64.3},{"k":12,"hz":136,"db":65.2},{"k":12,"hz":138.3,"db":66},{"k":12,"hz":141.5,"db":64.9},{"k":12,"hz":145.4,"db":61.3},{"k":12,"hz":149,"db":63.1},{"k":12,"hz":152,"db":64.5},{"k":12,"hz":156,"db":61.3},{"k":12,"hz":160,"db":57.8},{"k":12,"hz":168.7,"db":59},

{"k":13,"hz":96,"db":63.1},{"k":13,"hz":100,"db":60.5},{"k":13,"hz":104,"db":62.2},{"k":13,"hz":108,"db":64.5},{"k":13,"hz":112,"db":64},{"k":13,"hz":116,"db":60.5},{"k":13,"hz":120,"db":58.4},{"k":13,"hz":124,"db":60.1},{"k":13,"hz":128,"db":61.3},{"k":13,"hz":132,"db":62.5},{"k":13,"hz":136,"db":64.3},{"k":13,"hz":138.3,"db":65},{"k":13,"hz":141.5,"db":64},{"k":13,"hz":145.8,"db":59.6},{"k":13,"hz":151.9,"db":63.3},{"k":13,"hz":156,"db":60.1},{"k":13,"hz":160,"db":56.8},{"k":13,"hz":168.9,"db":58.1},
{"k":14,"hz":96,"db":61.7},{"k":14,"hz":100,"db":58.6},{"k":14,"hz":104,"db":61.2},{"k":14,"hz":108,"db":63.3},{"k":14,"hz":112,"db":63.1},{"k":14,"hz":116,"db":59.8},{"k":14,"hz":120,"db":57.4},{"k":14,"hz":124,"db":58.4},{"k":14,"hz":128,"db":60.1},{"k":14,"hz":132,"db":61.7},{"k":14,"hz":136,"db":63.1},{"k":14,"hz":138.3,"db":63.9},{"k":14,"hz":141.5,"db":63.1},{"k":14,"hz":146.3,"db":58},{"k":14,"hz":152.3,"db":62.2},{"k":14,"hz":156,"db":59.3},{"k":14,"hz":160,"db":56},{"k":14,"hz":169.6,"db":57},
{"k":15,"hz":96,"db":60.1},{"k":15,"hz":100,"db":57.2},{"k":15,"hz":104,"db":60},{"k":15,"hz":108,"db":62.2},{"k":15,"hz":112,"db":61.9},{"k":15,"hz":116,"db":58.9},{"k":15,"hz":120,"db":56.5},{"k":15,"hz":124,"db":56.8},{"k":15,"hz":128,"db":58.4},{"k":15,"hz":132,"db":60.1},{"k":15,"hz":136,"db":61.9},{"k":15,"hz":138.5,"db":62.9},{"k":15,"hz":141.5,"db":61.9},{"k":15,"hz":146.8,"db":56.6},{"k":15,"hz":152.6,"db":61},{"k":15,"hz":157,"db":57.8},{"k":15,"hz":161,"db":55.2},{"k":15,"hz":170,"db":55.2},
{"k":16,"hz":96,"db":58.4},{"k":16,"hz":100,"db":56},{"k":16,"hz":104,"db":58.6},{"k":16,"hz":108,"db":60.5},{"k":16,"hz":112,"db":60.5},{"k":16,"hz":116,"db":57.7},{"k":16,"hz":120,"db":55.6},{"k":16,"hz":124,"db":55.4},{"k":16,"hz":128,"db":56.8},{"k":16,"hz":132,"db":58.6},{"k":16,"hz":136,"db":60.4},{"k":16,"hz":139,"db":61.3},{"k":16,"hz":142.7,"db":60.5},{"k":16,"hz":147.3,"db":55.4},{"k":16,"hz":153,"db":59.8},{"k":16,"hz":157,"db":57.2},{"k":16,"hz":161.9,"db":54.25},
{"k":16.5,"hz":96.8,"db":54.1},{"k":16.5,"hz":164,"db":54.1},
{"k":17,"hz":96,"db":56.6},{"k":17,"hz":100,"db":54.8},{"k":17,"hz":104,"db":56.9},{"k":17,"hz":108,"db":58.7},{"k":17,"hz":112,"db":58.7},{"k":17,"hz":116,"db":56.2},{"k":17,"hz":120,"db":54.8},{"k":17,"hz":124,"db":54.6},{"k":17,"hz":128,"db":55.4},{"k":17,"hz":132,"db":56.8},{"k":17,"hz":136,"db":58.6},{"k":17,"hz":139.4,"db":59.9},{"k":17,"hz":143.8,"db":58.4},{"k":17,"hz":147.8,"db":54.2},{"k":17,"hz":153.5,"db":58.4},{"k":17,"hz":158,"db":56},{"k":17,"hz":162.6,"db":54},
{"k":18,"hz":96,"db":55.2},{"k":18,"hz":99,"db":53.8},{"k":18,"hz":100.7,"db":null},{"k":18,"hz":102.5,"db":53.8},{"k":18,"hz":106,"db":56},{"k":18,"hz":108,"db":57},{"k":18,"hz":112,"db":56.6},{"k":18,"hz":115.5,"db":53.8},{"k":18,"hz":118.5,"db":null},{"k":18,"hz":126,"db":53.8},{"k":18,"hz":128,"db":54.4},{"k":18,"hz":132,"db":55.2},{"k":18,"hz":136,"db":57},{"k":18,"hz":140,"db":58.6},{"k":18,"hz":145,"db":56},{"k":18,"hz":148.7,"db":53.8},{"k":18,"hz":150,"db":null},{"k":18,"hz":151,"db":53.8},{"k":18,"hz":154,"db":57},{"k":18,"hz":158.9,"db":55.2},{"k":18,"hz":163.3,"db":53.8},
{"k":19,"hz":98,"db":null},{"k":19,"hz":103.5,"db":53.5},{"k":19,"hz":106,"db":54.6},{"k":19,"hz":108,"db":55},{"k":19,"hz":112,"db":54.6},{"k":19,"hz":114.5,"db":53.5},{"k":19,"hz":122,"db":null},{"k":19,"hz":130,"db":53.5},{"k":19,"hz":136,"db":55.4},{"k":19,"hz":141,"db":57},{"k":19,"hz":145.8,"db":54.2},{"k":19,"hz":149.2,"db":53.5},{"k":19,"hz":150.5,"db":null},{"k":19,"hz":152,"db":53.5},{"k":19,"hz":154.8,"db":55.7},{"k":19,"hz":159.6,"db":54.2},{"k":19,"hz":163.5,"db":53.5},
{"k":20,"hz":98,"db":null},{"k":20,"hz":105,"db":53.3},{"k":20,"hz":106.5,"db":53.9},{"k":20,"hz":109,"db":54.2},{"k":20,"hz":112,"db":53.3},{"k":20,"hz":122,"db":null},{"k":20,"hz":134,"db":53.3},{"k":20,"hz":138,"db":54.2},{"k":20,"hz":142,"db":55.2},{"k":20,"hz":146.2,"db":53.7},{"k":20,"hz":149.4,"db":53.3},{"k":20,"hz":151,"db":null},{"k":20,"hz":153,"db":53.3},{"k":20,"hz":155.2,"db":54.5},{"k":20,"hz":160,"db":53.9},{"k":20,"hz":164,"db":53.3},
{"k":21,"hz":136,"db":53.07},{"k":21,"hz":142,"db":53.7},{"k":21,"hz":143.3,"db":53.9},{"k":21,"hz":147.4,"db":53.07},{"k":21,"hz":100,"db":null},

{"k":13,"hz":61.4,"db":54.96},{"k":13,"hz":64.6,"db":59},{"k":13,"hz":67.8,"db":62.2},{"k":13,"hz":71.5,"db":58.6},{"k":13,"hz":73.9,"db":54.96},{"k":13,"hz":77,"db":null},{"k":13,"hz":79.6,"db":54.96},{"k":13,"hz":81.1,"db":55.4},{"k":13,"hz":82.7,"db":54.96},{"k":13,"hz":83.4,"db":null},
{"k":14,"hz":61.6,"db":54.72},{"k":14,"hz":64.7,"db":58.6},{"k":14,"hz":67.8,"db":61.9},{"k":14,"hz":71.7,"db":58.4},{"k":14,"hz":74,"db":54.72},{"k":14,"hz":80,"db":null},
{"k":15,"hz":61.9,"db":54.48},{"k":15,"hz":64.8,"db":58.2},{"k":15,"hz":67.8,"db":61.4},{"k":15,"hz":72,"db":58},{"k":15,"hz":74.3,"db":54.48},{"k":15,"hz":80,"db":null},
{"k":16,"hz":62.1,"db":54.25},{"k":16,"hz":65,"db":57.7},{"k":16,"hz":67.8,"db":60.9},{"k":16,"hz":72.3,"db":57.5},{"k":16,"hz":74.5,"db":54.25},{"k":16,"hz":80,"db":null},
{"k":17,"hz":62.6,"db":54},{"k":17,"hz":65.2,"db":57.2},{"k":17,"hz":67.8,"db":60.1},{"k":17,"hz":72.6,"db":57},{"k":17,"hz":74.6,"db":54},{"k":17,"hz":80,"db":null},
{"k":18,"hz":63.1,"db":53.8},{"k":18,"hz":65.5,"db":56.8},{"k":18,"hz":67.8,"db":59.3},{"k":18,"hz":72.9,"db":56.6},{"k":18,"hz":74.8,"db":53.8},{"k":18,"hz":80,"db":null},
{"k":19,"hz":63.6,"db":53.5},{"k":19,"hz":65.7,"db":56},{"k":19,"hz":67.8,"db":58},{"k":19,"hz":73.3,"db":55.8},{"k":19,"hz":75,"db":53.5},{"k":19,"hz":80,"db":null},
{"k":20,"hz":64.1,"db":53.3},{"k":20,"hz":66,"db":55.2},{"k":20,"hz":67.8,"db":56.6},{"k":20,"hz":73.9,"db":55},{"k":20,"hz":75.1,"db":53.3},{"k":20,"hz":80,"db":null},
{"k":21,"hz":64.6,"db":53.07},{"k":21,"hz":67.8,"db":55.2},{"k":21,"hz":74.2,"db":54.1},{"k":21,"hz":75.2,"db":53.07},{"k":21,"hz":80,"db":null},
{"k":22,"hz":65,"db":52.83},{"k":22,"hz":67,"db":53.9},{"k":22,"hz":75.4,"db":52.83},{"k":22,"hz":80,"db":null},

{"k":13,"hz":84.1,"db":54.96},{"k":13,"hz":86.3,"db":59.9},{"k":13,"hz":88.5,"db":62.2},{"k":13,"hz":93.4,"db":54.96},{"k":13,"hz":95,"db":null},
{"k":14,"hz":84.3,"db":54.72},{"k":14,"hz":86.5,"db":59.6},{"k":14,"hz":88.8,"db":61.7},{"k":14,"hz":93.6,"db":54.72},{"k":14,"hz":95,"db":null},
{"k":15,"hz":84.6,"db":54.48},{"k":15,"hz":86.8,"db":59},{"k":15,"hz":89.2,"db":61},{"k":15,"hz":93.9,"db":54.48},{"k":15,"hz":95,"db":null},
{"k":16,"hz":84.8,"db":54.25},{"k":16,"hz":87.2,"db":58.5},{"k":16,"hz":89.5,"db":60.3},{"k":16,"hz":94.1,"db":54.25},{"k":16,"hz":95,"db":null},
{"k":17,"hz":85.1,"db":54},{"k":17,"hz":87.5,"db":58},{"k":17,"hz":89.9,"db":59.7},{"k":17,"hz":94.3,"db":54},{"k":17,"hz":95.2,"db":null},
{"k":18,"hz":85.3,"db":53.8},{"k":18,"hz":87.8,"db":57.6},{"k":18,"hz":90.2,"db":59.1},{"k":18,"hz":94.6,"db":53.8},{"k":18,"hz":95.4,"db":null},
{"k":19,"hz":85.6,"db":53.5},{"k":19,"hz":88,"db":57},{"k":19,"hz":90.5,"db":58.5},{"k":19,"hz":94.8,"db":53.5},
{"k":20,"hz":85.8,"db":53.3},{"k":20,"hz":88.2,"db":56.5},{"k":20,"hz":90.9,"db":57.9},{"k":20,"hz":95.1,"db":53.3},
{"k":21,"hz":86.3,"db":53.07},{"k":21,"hz":88.7,"db":56},{"k":21,"hz":91.2,"db":57.2},{"k":21,"hz":95.3,"db":53.07},
{"k":22,"hz":86.8,"db":52.83},{"k":22,"hz":89.2,"db":55.4},{"k":22,"hz":91.6,"db":56.6},{"k":22,"hz":95.4,"db":52.83},
{"k":23,"hz":87.3,"db":52.6},{"k":23,"hz":89.6,"db":55},{"k":23,"hz":91.9,"db":56},{"k":23,"hz":95.6,"db":52.6},
{"k":24,"hz":87.8,"db":52.36},{"k":24,"hz":90,"db":54.5},{"k":24,"hz":92.2,"db":55.4},{"k":24,"hz":95.7,"db":52.36},
{"k":25,"hz":88.2,"db":52.12},{"k":25,"hz":90.4,"db":54},{"k":25,"hz":92.6,"db":54.8},{"k":25,"hz":95.8,"db":52.12},
{"k":26,"hz":89.2,"db":51.89},{"k":26,"hz":91,"db":53.4},{"k":26,"hz":92.9,"db":54.1},{"k":26,"hz":95.9,"db":51.89},
{"k":27,"hz":90.2,"db":51.65},{"k":27,"hz":91.6,"db":52.9},{"k":27,"hz":93.3,"db":53.5},{"k":27,"hz":95.9,"db":51.65},
{"k":28,"hz":91.2,"db":51.42},{"k":28,"hz":92.4,"db":52.4},{"k":28,"hz":93.6,"db":52.9},{"k":28,"hz":95.9,"db":51.42},
{"k":29,"hz":92.1,"db":51.18},{"k":29,"hz":93.9,"db":52.4},{"k":29,"hz":96,"db":51.18},
{"k":30,"hz":92.9,"db":50.94},{"k":30,"hz":94.3,"db":51.8},{"k":30,"hz":96,"db":50.94},
{"k":31,"hz":93.6,"db":50.71},{"k":31,"hz":94.6,"db":51.1},{"k":31,"hz":96,"db":50.71},

{"k":13,"hz":14,"db":64.9},{"k":13,"hz":16.2,"db":69.4},{"k":13,"hz":18.3,"db":71.2},{"k":13,"hz":21.7,"db":54.96},{"k":13,"hz":22,"db":null},
{"k":14,"hz":14,"db":63.9},{"k":14,"hz":16.2,"db":68.3},{"k":14,"hz":18.3,"db":70.3},{"k":14,"hz":21.7,"db":54.72},{"k":14,"hz":22,"db":null},
{"k":15,"hz":14,"db":62.9},{"k":15,"hz":16.2,"db":67.3},{"k":15,"hz":18.3,"db":69.2},{"k":15,"hz":21.7,"db":54.48},{"k":15,"hz":22,"db":null},
{"k":16,"hz":14,"db":61},{"k":16,"hz":16.2,"db":66.4},{"k":16,"hz":18.3,"db":68.3},{"k":16,"hz":21.7,"db":54.25},{"k":16,"hz":22,"db":null},
{"k":17,"hz":14,"db":60},{"k":17,"hz":16.2,"db":65.3},{"k":17,"hz":18.3,"db":67.2},{"k":17,"hz":21.7,"db":54},{"k":17,"hz":22,"db":null},
{"k":18,"hz":14,"db":59},{"k":18,"hz":16.2,"db":64.4},{"k":18,"hz":18.3,"db":66.3},{"k":18,"hz":21.7,"db":53.8},{"k":18,"hz":22,"db":null},
{"k":19,"hz":14,"db":58},{"k":19,"hz":16.2,"db":63.4},{"k":19,"hz":18.3,"db":65.3},{"k":19,"hz":21.7,"db":53.5},{"k":19,"hz":22,"db":null},
{"k":20,"hz":14,"db":57},{"k":20,"hz":16.2,"db":62.4},{"k":20,"hz":18.3,"db":64.3},{"k":20,"hz":21.7,"db":53.3},{"k":20,"hz":22,"db":null},
{"k":21,"hz":14,"db":56},{"k":21,"hz":16.2,"db":61.4},{"k":21,"hz":18.3,"db":63.3},{"k":21,"hz":21.7,"db":53.07},{"k":21,"hz":22,"db":null},
{"k":22,"hz":14,"db":55},{"k":22,"hz":16.2,"db":60.3},{"k":22,"hz":18.3,"db":62.2},{"k":22,"hz":21.7,"db":52.83},{"k":22,"hz":22,"db":null},
{"k":23,"hz":14.2,"db":54},{"k":23,"hz":16.2,"db":59.4},{"k":23,"hz":18.3,"db":61.3},{"k":23,"hz":21.7,"db":52.6},{"k":23,"hz":22,"db":null},
{"k":24,"hz":14.5,"db":53.1},{"k":24,"hz":16.2,"db":58.4},{"k":24,"hz":18.3,"db":60.3},{"k":24,"hz":21.7,"db":52.36},{"k":24,"hz":22,"db":null},
{"k":25,"hz":15,"db":52.12},{"k":25,"hz":16.4,"db":57.4},{"k":25,"hz":18.3,"db":59.3},{"k":25,"hz":21.7,"db":52.12},{"k":25,"hz":22,"db":null},
{"k":26,"hz":15.5,"db":51.89},{"k":26,"hz":18.4,"db":58.3},{"k":26,"hz":21.6,"db":51.89},{"k":26,"hz":30,"db":null},
{"k":27,"hz":16,"db":51.65},{"k":27,"hz":18.4,"db":57.3},{"k":27,"hz":21.5,"db":51.65},{"k":27,"hz":30,"db":null},
{"k":28,"hz":16.5,"db":51.42},{"k":28,"hz":18.5,"db":56.3},{"k":28,"hz":21.4,"db":51.42},{"k":28,"hz":30,"db":null},
{"k":29,"hz":17,"db":51.18},{"k":29,"hz":18.6,"db":55.4},{"k":29,"hz":21.2,"db":51.18},{"k":29,"hz":30,"db":null},
{"k":30,"hz":17.5,"db":50.94},{"k":30,"hz":18.7,"db":52.4},{"k":30,"hz":20.8,"db":50.94},{"k":30,"hz":30,"db":null},
{"k":31,"hz":17.8,"db":50.71},{"k":31,"hz":18.8,"db":51.3},{"k":31,"hz":20.2,"db":50.71},{"k":31,"hz":55,"db":null},

{"k":13,"hz":22.3,"db":54.96},{"k":13,"hz":24.5,"db":66.6},{"k":13,"hz":27,"db":54.96},{"k":13,"hz":27.3,"db":null},
{"k":14,"hz":22.3,"db":54.72},{"k":14,"hz":24.8,"db":65.7},{"k":14,"hz":27,"db":54.72},{"k":14,"hz":27.3,"db":null},
{"k":15,"hz":22.3,"db":54.48},{"k":15,"hz":25,"db":64.7},{"k":15,"hz":27,"db":54.48},{"k":15,"hz":27.3,"db":null},
{"k":16,"hz":22.3,"db":54.25},{"k":16,"hz":25.3,"db":63.7},{"k":16,"hz":27,"db":54.25},{"k":16,"hz":27.3,"db":null},
{"k":17,"hz":22.3,"db":54},{"k":17,"hz":25.5,"db":62.7},{"k":17,"hz":27,"db":54},{"k":17,"hz":27.3,"db":null},
{"k":18,"hz":22.3,"db":53.8},{"k":18,"hz":25.6,"db":61.8},{"k":18,"hz":27,"db":53.8},{"k":18,"hz":27.3,"db":null},
{"k":19,"hz":22.3,"db":53.5},{"k":19,"hz":25.7,"db":60.8},{"k":19,"hz":27,"db":53.5},{"k":19,"hz":27.3,"db":null},
{"k":20,"hz":22.3,"db":53.3},{"k":20,"hz":25.7,"db":59.9},{"k":20,"hz":27,"db":53.3},{"k":20,"hz":27.3,"db":null},
{"k":21,"hz":22.3,"db":53.07},{"k":21,"hz":25.8,"db":58.8},{"k":21,"hz":27,"db":53.07},{"k":21,"hz":27.3,"db":null},
{"k":22,"hz":22.3,"db":52.83},{"k":22,"hz":25.8,"db":57.9},{"k":22,"hz":27,"db":52.83},{"k":22,"hz":27.3,"db":null},
{"k":23,"hz":22.3,"db":52.6},{"k":23,"hz":25.8,"db":56.9},{"k":23,"hz":27,"db":52.6},{"k":23,"hz":27.3,"db":null},
{"k":24,"hz":22.3,"db":52.36},{"k":24,"hz":25.8,"db":56},{"k":24,"hz":27,"db":52.36},{"k":24,"hz":27.3,"db":null},

{"k":13,"hz":27.6,"db":54.96},{"k":13,"hz":28.7,"db":64},{"k":13,"hz":31,"db":63.1},{"k":13,"hz":33.5,"db":62.7},{"k":13,"hz":35.4,"db":54.96},{"k":13,"hz":35.8,"db":null},
{"k":14,"hz":27.6,"db":54.72},{"k":14,"hz":28.7,"db":63.2},{"k":14,"hz":31,"db":62.3},{"k":14,"hz":33.5,"db":62},{"k":14,"hz":35.4,"db":54.72},{"k":14,"hz":35.8,"db":null},
{"k":15,"hz":27.6,"db":54.48},{"k":15,"hz":28.7,"db":62.4},{"k":15,"hz":31,"db":61.5},{"k":15,"hz":33.5,"db":61.2},{"k":15,"hz":35.4,"db":54.48},{"k":15,"hz":35.8,"db":null},
{"k":16,"hz":27.6,"db":54.25},{"k":16,"hz":28.7,"db":61.6},{"k":16,"hz":31,"db":60.6},{"k":16,"hz":33.5,"db":60.4},{"k":16,"hz":35.4,"db":54.25},{"k":16,"hz":35.8,"db":null},
{"k":17,"hz":27.6,"db":54},{"k":17,"hz":28.7,"db":60.7},{"k":17,"hz":31,"db":59.8},{"k":17,"hz":33.5,"db":59.7},{"k":17,"hz":35.4,"db":54},{"k":17,"hz":35.8,"db":null},
{"k":18,"hz":27.6,"db":53.8},{"k":18,"hz":28.7,"db":59.9},{"k":18,"hz":31,"db":59},{"k":18,"hz":33.5,"db":58.9},{"k":18,"hz":35.4,"db":53.8},{"k":18,"hz":35.8,"db":null},
{"k":19,"hz":27.6,"db":53.5},{"k":19,"hz":28.7,"db":59.1},{"k":19,"hz":31,"db":58.1},{"k":19,"hz":33.5,"db":58.2},{"k":19,"hz":35.4,"db":53.5},{"k":19,"hz":35.8,"db":null},
{"k":20,"hz":27.6,"db":53.3},{"k":20,"hz":28.7,"db":58.3},{"k":20,"hz":31,"db":57.4},{"k":20,"hz":33.5,"db":57.4},{"k":20,"hz":35.4,"db":53.3},{"k":20,"hz":35.8,"db":null},
{"k":21,"hz":27.6,"db":53.07},{"k":21,"hz":28.7,"db":57.5},{"k":21,"hz":31,"db":56.6},{"k":21,"hz":33.5,"db":56.6},{"k":21,"hz":35.4,"db":53.07},{"k":21,"hz":35.8,"db":null},
{"k":22,"hz":27.6,"db":52.83},{"k":22,"hz":28.7,"db":56.6},{"k":22,"hz":31,"db":55.7},{"k":22,"hz":33.5,"db":55.9},{"k":22,"hz":35.4,"db":52.83},{"k":22,"hz":35.8,"db":null},
{"k":23,"hz":27.6,"db":52.6},{"k":23,"hz":28.7,"db":55.8},{"k":23,"hz":31,"db":54.9},{"k":23,"hz":33.5,"db":55.1},{"k":23,"hz":35.4,"db":52.6},{"k":23,"hz":35.8,"db":null},
{"k":24,"hz":27.6,"db":52.36},{"k":24,"hz":28.7,"db":55},{"k":24,"hz":31,"db":54},{"k":24,"hz":33.5,"db":54.3},{"k":24,"hz":35.4,"db":52.36},{"k":24,"hz":35.8,"db":null},
{"k":25,"hz":27.6,"db":52.12},{"k":25,"hz":28.7,"db":54.2},{"k":25,"hz":31,"db":53.3},{"k":25,"hz":33.5,"db":53.5},{"k":25,"hz":35.4,"db":52.12},{"k":25,"hz":35.8,"db":null},

{"k":13,"hz":36.2,"db":54.96},{"k":13,"hz":39.2,"db":63},{"k":13,"hz":42.3,"db":66},{"k":13,"hz":47.8,"db":59.3},{"k":13,"hz":49.5,"db":54.96},{"k":13,"hz":55,"db":null},
{"k":14,"hz":36.2,"db":54.72},{"k":14,"hz":39.4,"db":62.4},{"k":14,"hz":42.6,"db":65.1},{"k":14,"hz":47.8,"db":59},{"k":14,"hz":49.5,"db":54.72},{"k":14,"hz":55,"db":null},
{"k":15,"hz":36.2,"db":54.48},{"k":15,"hz":39.5,"db":61.7},{"k":15,"hz":42.8,"db":64.3},{"k":15,"hz":47.8,"db":58.8},{"k":15,"hz":49.5,"db":54.48},{"k":15,"hz":55,"db":null},
{"k":16,"hz":36.2,"db":54.25},{"k":16,"hz":39.6,"db":61},{"k":16,"hz":43.1,"db":63.4},{"k":16,"hz":47.8,"db":58.6},{"k":16,"hz":49.5,"db":54.25},{"k":16,"hz":55,"db":null},
{"k":17,"hz":36.2,"db":54},{"k":17,"hz":39.8,"db":60.2},{"k":17,"hz":43.4,"db":62.5},{"k":17,"hz":47.9,"db":58.3},{"k":17,"hz":49.5,"db":54},{"k":17,"hz":55,"db":null},
{"k":18,"hz":36.2,"db":53.8},{"k":18,"hz":40,"db":59.5},{"k":18,"hz":43.7,"db":61.6},{"k":18,"hz":48,"db":58},{"k":18,"hz":49.5,"db":53.8},{"k":18,"hz":55,"db":null},
{"k":19,"hz":37,"db":53.5},{"k":19,"hz":40.4,"db":58.8},{"k":19,"hz":43.9,"db":60.7},{"k":19,"hz":48,"db":57.6},{"k":19,"hz":49.5,"db":53.5},{"k":19,"hz":55,"db":null},
{"k":20,"hz":38,"db":53.3},{"k":20,"hz":41,"db":58},{"k":20,"hz":44.2,"db":59.8},{"k":20,"hz":48,"db":57.2},{"k":20,"hz":49.5,"db":53.3},{"k":20,"hz":55,"db":null},
{"k":21,"hz":39,"db":53.07},{"k":21,"hz":41.7,"db":57.3},{"k":21,"hz":44.5,"db":59},{"k":21,"hz":48,"db":56.6},{"k":21,"hz":49.5,"db":53.07},{"k":21,"hz":55,"db":null},
{"k":22,"hz":40,"db":52.83},{"k":22,"hz":42.3,"db":56.6},{"k":22,"hz":44.7,"db":58.1},{"k":22,"hz":48,"db":56},{"k":22,"hz":49.5,"db":52.83},{"k":22,"hz":55,"db":null},
{"k":23,"hz":41,"db":52.6},{"k":23,"hz":43,"db":55.9},{"k":23,"hz":45,"db":57.2},{"k":23,"hz":48,"db":55.4},{"k":23,"hz":49.5,"db":52.6},{"k":23,"hz":55,"db":null},
{"k":24,"hz":42,"db":52.36},{"k":24,"hz":43.7,"db":55.2},{"k":24,"hz":45.3,"db":56.3},{"k":24,"hz":48,"db":54.7},{"k":24,"hz":49.5,"db":52.36},{"k":24,"hz":55,"db":null},
{"k":25,"hz":43,"db":52.12},{"k":25,"hz":44.2,"db":54.5},{"k":25,"hz":45.5,"db":55.4},{"k":25,"hz":48,"db":54.1},{"k":25,"hz":49.5,"db":52.12},{"k":25,"hz":55,"db":null},
{"k":26,"hz":44,"db":51.89},{"k":26,"hz":45.8,"db":54.5},{"k":26,"hz":48,"db":53.5},{"k":26,"hz":49.5,"db":51.89},{"k":26,"hz":55,"db":null},
{"k":27,"hz":44.5,"db":51.65},{"k":27,"hz":46,"db":53.6},{"k":27,"hz":48,"db":52.9},{"k":27,"hz":49.5,"db":51.65},{"k":27,"hz":55,"db":null},
{"k":28,"hz":45,"db":51.42},{"k":28,"hz":46.3,"db":52.8},{"k":28,"hz":48,"db":52.4},{"k":28,"hz":49.5,"db":51.42},{"k":28,"hz":55,"db":null},
{"k":29,"hz":45.5,"db":51.18},{"k":29,"hz":46.5,"db":52},{"k":29,"hz":48,"db":51.8},{"k":29,"hz":49.5,"db":51.18},{"k":29,"hz":55,"db":null},
{"k":30,"hz":46,"db":50.94},{"k":30,"hz":46.8,"db":51.3},{"k":30,"hz":48,"db":51.3},{"k":30,"hz":49.5,"db":50.94},{"k":30,"hz":55,"db":null},

{"k":33,"hz":20.8,"db":50},{"k":33,"hz":22.2,"db":56.4},{"k":33,"hz":26.8,"db":50},{"k":33,"hz":26.85,"db":null},{"k":33,"hz":26.9,"db":53.3},{"k":33,"hz":29.8,"db":51.6},{"k":33,"hz":31.2,"db":50},{"k":33,"hz":40,"db":null},{"k":33,"hz":46.8,"db":50},{"k":33,"hz":48.3,"db":58.6},{"k":33,"hz":49.5,"db":54.8},{"k":33,"hz":51.7,"db":50}
]},
"encoding":{"x":{"field":"hz","type":"quantitative","scale":{"domain":[6,190],"range":[29.5,785]},"axis":{"values":[6,20,40,60,80,100,120,140,160,180,190],"labelExpr":"datum.value==190?'190 Hz':datum.label","domain":false,"ticks":false,"grid":false,"title":null,"offset":-16,"labelPadding":3,"labelFont":"Liberation Sans","labelFontSize":10,"labelColor":"#333333","labelOverlap":false,"labelBound":false,"labelFlush":false}},"y":{"field":"db","type":"quantitative","scale":{"domain":[50,90],"range":[351,13]},"axis":{"values":[50,55,60,65,70,75,80,85,90],"domain":false,"ticks":false,"grid":false,"title":"dB","titleAngle":0,"titleFont":"Liberation Sans","titleFontSize":9,"titleFontWeight":"normal","titleColor":"#333333","titleX":-8,"titleY":3,"titleAlign":"center","titleBaseline":"middle","offset":-30,"labelPadding":4,"labelFont":"Liberation Sans","labelFontSize":9.5,"labelColor":"#333333"}}},
"layer":[
{"data":{"name":"strips"},"mark":{"type":"rect"},"encoding":{"x2":{"field":"hz2"},"y2":{"field":"db2"},"color":{"field":"d","type":"quantitative","scale":{"domain":[0,5],"range":["#ebebeb","#fdfdfd"]},"legend":null}}},
{"data":{"name":"floor"},"mark":{"type":"area","line":false,"color":"white","interpolate":"linear"},"encoding":{"y2":{"field":"b"}}},
{"data":{"name":"back"},"mark":{"type":"rect","color":"#ebebeb"},"encoding":{"x2":{"field":"hz2"},"y2":{"field":"db2"}}},
{"data":{"name":"grid"},"mark":{"type":"rule","color":"#cfcfcf","strokeWidth":1.2},"encoding":{"x2":{"field":"hz2"},"y2":{"field":"db2"}}},
{"data":{"name":"frame"},"mark":{"type":"rule","color":"#bcbcbc","strokeWidth":2.2},"encoding":{"x2":{"field":"hz2"},"y2":{"field":"db2"}}},
{"data":{"name":"boxes"},"mark":{"type":"rect","width":14,"height":12,"color":"#f8f8f8","stroke":"#cccccc","strokeWidth":1}},
{"data":{"name":"boxes"},"mark":{"type":"text","font":"Liberation Sans","fontSize":8.5,"color":"#333333"},"encoding":{"text":{"field":"label"}}},
{"data":{"name":"tag"},"mark":{"type":"rect","width":27,"height":11,"color":"#ffffff","stroke":"#cccccc","strokeWidth":1}},
{"data":{"name":"tag"},"mark":{"type":"text","font":"Liberation Sans","fontSize":9.5,"color":"#222222"},"encoding":{"text":{"field":"label"}}},
{"data":{"name":"slices"},"transform":[{"lookup":"k","from":{"data":{"name":"bases"},"key":"k","fields":["base"]}}],"encoding":{"y2":{"field":"base"}},
"layer":[
{"transform":[{"filter":"datum.k==0"}],"mark":{"type":"area","interpolate":"monotone"}},{"transform":[{"filter":"datum.k==1"}],"mark":{"type":"area","interpolate":"monotone"}},{"transform":[{"filter":"datum.k==2"}],"mark":{"type":"area","interpolate":"monotone"}},{"transform":[{"filter":"datum.k==3"}],"mark":{"type":"area","interpolate":"monotone"}},{"transform":[{"filter":"datum.k==4"}],"mark":{"type":"area","interpolate":"monotone"}},{"transform":[{"filter":"datum.k==5"}],"mark":{"type":"area","interpolate":"monotone"}},{"transform":[{"filter":"datum.k==6"}],"mark":{"type":"area","interpolate":"monotone"}},{"transform":[{"filter":"datum.k==7"}],"mark":{"type":"area","interpolate":"monotone"}},{"transform":[{"filter":"datum.k==8"}],"mark":{"type":"area","interpolate":"monotone"}},{"transform":[{"filter":"datum.k==9"}],"mark":{"type":"area","interpolate":"monotone"}},{"transform":[{"filter":"datum.k==10"}],"mark":{"type":"area","interpolate":"monotone"}},{"transform":[{"filter":"datum.k==11"}],"mark":{"type":"area","interpolate":"monotone"}},{"transform":[{"filter":"datum.k==12"}],"mark":{"type":"area","interpolate":"monotone"}},{"transform":[{"filter":"datum.k==13"}],"mark":{"type":"area","interpolate":"monotone"}},{"transform":[{"filter":"datum.k==14"}],"mark":{"type":"area","interpolate":"monotone"}},{"transform":[{"filter":"datum.k==15"}],"mark":{"type":"area","interpolate":"monotone"}},{"transform":[{"filter":"datum.k==16"}],"mark":{"type":"area","interpolate":"monotone"}},{"transform":[{"filter":"datum.k==16.5"}],"mark":{"type":"area","line":false,"interpolate":"linear"}},{"transform":[{"filter":"datum.k==17"}],"mark":{"type":"area","interpolate":"monotone"}},{"transform":[{"filter":"datum.k==18"}],"mark":{"type":"area","interpolate":"monotone"}},{"transform":[{"filter":"datum.k==19"}],"mark":{"type":"area","interpolate":"monotone"}},{"transform":[{"filter":"datum.k==20"}],"mark":{"type":"area","interpolate":"monotone"}},{"transform":[{"filter":"datum.k==21"}],"mark":{"type":"area","interpolate":"monotone"}},{"transform":[{"filter":"datum.k==22"}],"mark":{"type":"area","interpolate":"monotone"}},{"transform":[{"filter":"datum.k==23"}],"mark":{"type":"area","interpolate":"monotone"}},{"transform":[{"filter":"datum.k==24"}],"mark":{"type":"area","interpolate":"monotone"}},{"transform":[{"filter":"datum.k==25"}],"mark":{"type":"area","interpolate":"monotone"}},{"transform":[{"filter":"datum.k==26"}],"mark":{"type":"area","interpolate":"monotone"}},{"transform":[{"filter":"datum.k==27"}],"mark":{"type":"area","interpolate":"monotone"}},{"transform":[{"filter":"datum.k==28"}],"mark":{"type":"area","interpolate":"monotone"}},{"transform":[{"filter":"datum.k==29"}],"mark":{"type":"area","interpolate":"monotone"}},{"transform":[{"filter":"datum.k==30"}],"mark":{"type":"area","interpolate":"monotone"}},{"transform":[{"filter":"datum.k==31"}],"mark":{"type":"area","interpolate":"monotone"}},{"transform":[{"filter":"datum.k==33"}],"mark":{"type":"area","line":false,"interpolate":"monotone"}}
]}
]}
